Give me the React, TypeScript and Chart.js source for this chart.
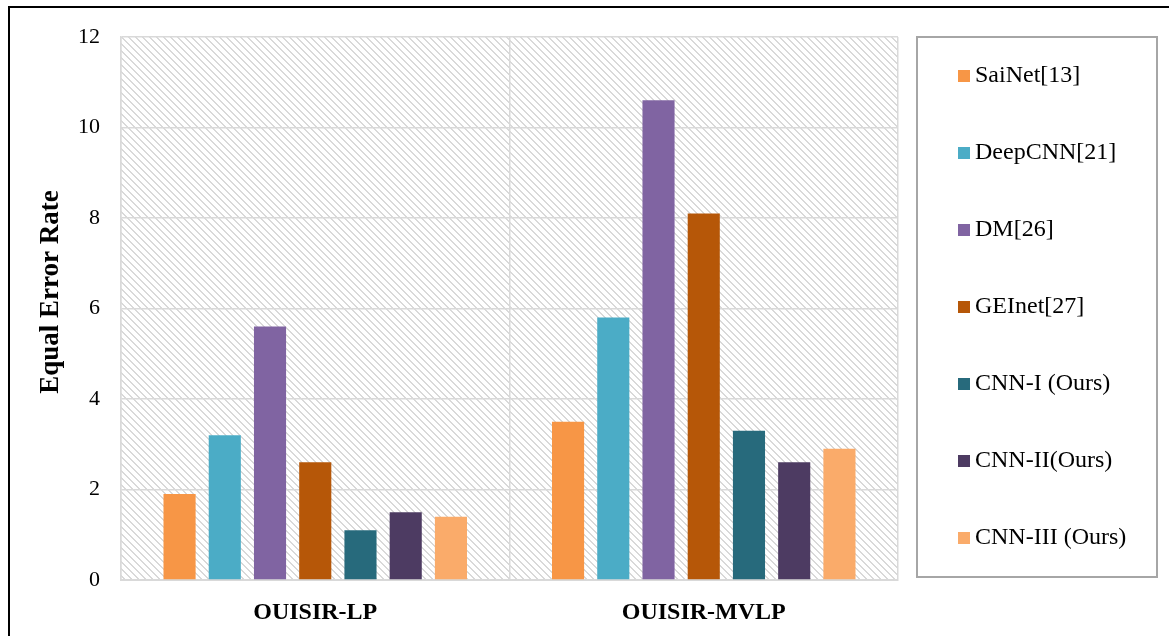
import React, { useEffect, useRef } from "react";
import { Chart, registerables } from "chart.js";

Chart.register(...registerables);

const categories = ["OUISIR-LP", "OUISIR-MVLP"];
const seriesNames = [
  "SaiNet[13]",
  "DeepCNN[21]",
  "DM[26]",
  "GEInet[27]",
  "CNN-I (Ours)",
  "CNN-II(Ours)",
  "CNN-III (Ours)",
];
const saiNet = [1.9, 3.5];
const deepCNN = [3.2, 5.8];
const dm = [5.6, 10.6];
const geiNet = [2.6, 8.1];
const cnnI = [1.1, 3.3];
const cnnII = [1.5, 2.6];
const cnnIII = [1.4, 2.9];
const seriesValues = [saiNet, deepCNN, dm, geiNet, cnnI, cnnII, cnnIII];
const seriesColors = ["#F79646", "#4BACC6", "#8064A2", "#B65708", "#276A7C", "#4D3B62", "#FAAB6A"];
const yTicks = [0, 2, 4, 6, 8, 10, 12];
const yTitle = "Equal Error Rate";

const FONT = "'Liberation Serif', 'Times New Roman', serif";

function makePattern(ctx: CanvasRenderingContext2D) {
  const c = document.createElement("canvas");
  const s = 7;
  c.width = s;
  c.height = s;
  const p = c.getContext("2d")!;
  p.fillStyle = "#ffffff";
  p.fillRect(0, 0, s, s);
  p.fillStyle = "#d9d9d9";
  for (let i = 0; i < s; i++) {
    p.fillRect(i, i, 1, 1);
    p.fillRect((i + 1) % s, i, 1, 1);
  }
  return ctx.createPattern(c, "repeat");
}

const hatchPlugin = {
  id: "hatchBg",
  beforeDraw(chart: any) {
    const { ctx, chartArea } = chart;
    const pat = makePattern(ctx);
    if (!pat) return;
    ctx.save();
    ctx.fillStyle = pat;
    ctx.fillRect(chartArea.left, chartArea.top, chartArea.right - chartArea.left, chartArea.bottom - chartArea.top);
    ctx.restore();
  },
};

const yTitlePlugin = {
  id: "yTitleText",
  afterDraw(chart: any, _args: any, opts: any) {
    const { ctx } = chart;
    ctx.save();
    ctx.translate(opts.x, opts.y);
    ctx.rotate(-Math.PI / 2);
    ctx.font = `bold ${opts.fontSize}px ${FONT}`;
    ctx.fillStyle = "#000";
    ctx.textAlign = "center";
    ctx.textBaseline = "middle";
    ctx.fillText(opts.text, 0, 0);
    ctx.restore();
  },
};

const boxLegendPlugin = {
  id: "boxLegend",
  afterDraw(chart: any, _args: any, opts: any) {
    const { ctx } = chart;
    ctx.save();
    ctx.strokeStyle = "#a6a6a6";
    ctx.lineWidth = 2;
    ctx.strokeRect(opts.left, opts.top, opts.width, opts.height);
    ctx.font = `${opts.fontSize}px ${FONT}`;
    ctx.textBaseline = "middle";
    ctx.textAlign = "left";
    chart.data.datasets.forEach((ds: any, i: number) => {
      const cy = opts.firstY + i * opts.step;
      ctx.fillStyle = ds.backgroundColor;
      ctx.fillRect(opts.markerX, cy - opts.marker / 2, opts.marker, opts.marker);
      ctx.fillStyle = "#000";
      ctx.fillText(ds.label, opts.textX, cy);
    });
    ctx.restore();
  },
};

export default function App() {
  const ref = useRef<HTMLCanvasElement | null>(null);
  useEffect(() => {
    if (!ref.current) return;
    const chart = new Chart(ref.current, {
      type: "bar",
      data: {
        labels: categories,
        datasets: seriesNames.map((name, i) => ({
          label: name,
          data: seriesValues[i],
          backgroundColor: seriesColors[i],
          borderWidth: 0,
          categoryPercentage: 0.815,
          barPercentage: 0.71,
        })),
      },
      options: {
        animation: false,
        responsive: false,
        layout: { padding: { left: 0, right: 271, top: 37, bottom: 0 } },
        plugins: {
          legend: { display: false },
          tooltip: { enabled: false },
          yTitleText: { text: yTitle, x: 51, y: 292, fontSize: 27 },
          boxLegend: {
            left: 917,
            top: 37,
            width: 240,
            height: 540,
            firstY: 76,
            step: 77,
            marker: 12,
            markerX: 958,
            textX: 975,
            fontSize: 24,
          },
        } as any,
        scales: {
          x: {
            grid: { display: true, offset: true, color: "#d9d9d9", lineWidth: 1.5, drawTicks: false },
            border: { display: true, color: "#d9d9d9", width: 2 },
            ticks: {
              color: "#000",
              padding: 18,
              font: { family: FONT, size: 24, weight: "bold" },
            },
            afterFit(scale: any) {
              scale.height = 56;
            },
          },
          y: {
            min: 0,
            max: 12,
            afterBuildTicks(scale: any) {
              scale.ticks = yTicks.map((v) => ({ value: v }));
            },
            grid: { color: "#d9d9d9", lineWidth: 1.5, drawTicks: false },
            border: { display: true, color: "#d9d9d9", width: 1.5 },
            ticks: {
              color: "#000",
              padding: 21,
              font: { family: FONT, size: 22 },
            },
            title: { display: false },
            afterFit(scale: any) {
              scale.width = 121;
            },
          },
        },
      },
      plugins: [hatchPlugin, yTitlePlugin, boxLegendPlugin],
    });
    return () => chart.destroy();
  }, []);

  return (
    <div style={{ position: "fixed", left: 0, top: 0, width: 1169, height: 636, overflow: "hidden", background: "#fff" }}>
      <canvas ref={ref} width={1169} height={636} style={{ position: "absolute", left: 0, top: 0, width: 1169, height: 636 }} />
      <div
        style={{
          position: "absolute",
          left: 8,
          top: 6,
          width: 1400,
          height: 900,
          borderTop: "2px solid #000",
          borderLeft: "2px solid #000",
          pointerEvents: "none",
        }}
      />
    </div>
  );
}
